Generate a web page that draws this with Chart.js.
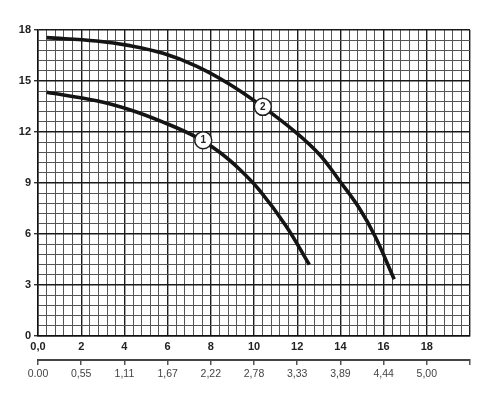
<!DOCTYPE html>
<html>
<head>
<meta charset="utf-8">
<script src="https://cdn.jsdelivr.net/npm/chart.js@4"></script>
<style>
html,body{margin:0;padding:0;background:#fff;}
#wrap{width:500px;height:400px;}
</style>
</head>
<body>
<div id="wrap"><canvas id="c" width="500" height="400"></canvas></div>
<script>
// Flow Q (m3/h) and head H (m)
const curve1Q = [0.40, 2.71, 4.25, 5.79, 7.33, 8.41, 9.33, 10.25, 11.49, 12.56];
const curve1H = [14.34, 13.84, 13.31, 12.58, 11.70, 10.81, 9.81, 8.58, 6.46, 4.20];
const curve2Q = [0.40, 2.71, 4.25, 5.79, 7.33, 8.87, 10.41, 11.95, 13.03, 13.95, 14.87, 15.61, 16.49];
const curve2H = [17.55, 17.35, 17.08, 16.63, 15.88, 14.81, 13.48, 11.97, 10.68, 9.15, 7.53, 5.85, 3.34];
const markerQ = [7.65, 10.41];
const markerH = [11.52, 13.48];
const markerText = ['1', '2'];
const xTickLabels = ['0,0', '2', '4', '6', '8', '10', '12', '14', '16', '18', ''];
const lpsTickLabels = ['0.00', '0,55', '1,11', '1,67', '2,22', '2,78', '3,33', '3,89', '4,44', '5,00', ''];
const yTickLabels = ['0', '3', '6', '9', '12', '15', '18'];

const toPts = (xs, ys) => xs.map((x, i) => ({x: x, y: ys[i]}));

const isMultiple = (v, m) => Math.abs(v / m - Math.round(v / m)) < 1e-6;

const markerTextPlugin = {
  id: 'markerText',
  afterDatasetsDraw(chart) {
    const meta = chart.getDatasetMeta(2);
    const ctx = chart.ctx;
    ctx.save();
    ctx.fillStyle = '#222';
    ctx.font = 'bold 10px "Liberation Sans", Arial, sans-serif';
    ctx.textAlign = 'center';
    ctx.textBaseline = 'middle';
    meta.data.forEach((pt, i) => {
      ctx.fillText(markerText[i], pt.x, pt.y + 0.5);
    });
    ctx.restore();
  }
};

const curveStyle = {
  showLine: true,
  borderColor: '#141414',
  borderWidth: 3.6,
  pointRadius: 0,
  tension: 0.4,
  borderCapStyle: 'butt',
  order: 2
};

new Chart(document.getElementById('c'), {
  type: 'scatter',
  data: {
    datasets: [
      Object.assign({data: toPts(curve1Q, curve1H)}, curveStyle),
      Object.assign({data: toPts(curve2Q, curve2H)}, curveStyle),
      {
        data: toPts(markerQ, markerH),
        showLine: false,
        pointRadius: 8.5,
        pointBackgroundColor: '#ffffff',
        pointBorderColor: '#222',
        pointBorderWidth: 1.5,
        order: 0
      }
    ]
  },
  options: {
    responsive: false,
    animation: false,
    events: [],
    layout: {padding: {top: 30, right: 30, left: 0, bottom: 0}},
    plugins: {legend: {display: false}, tooltip: {enabled: false}},
    scales: {
      x: {
        type: 'linear',
        position: 'bottom',
        min: 0, max: 20,
        afterFit(s) { s.height = 24; },
        ticks: {
          stepSize: 0.4,
          autoSkip: false,
          maxRotation: 0,
          padding: 4,
          color: '#222',
          font: {family: '"Liberation Sans", Arial, sans-serif', size: 11, weight: 'bold'},
          callback(v) {
            if (!isMultiple(v, 2)) return '';
            return xTickLabels[Math.round(v / 2)];
          }
        },
        grid: {
          drawTicks: false,
          color: c => (c.tick && isMultiple(c.tick.value, 2)) ? '#1a1a1a' : '#555555',
          lineWidth: c => (c.tick && isMultiple(c.tick.value, 2)) ? 1.4 : 1
        },
        border: {display: true, color: '#111', width: 1.5}
      },
      x2: {
        type: 'linear',
        position: 'bottom',
        min: 0, max: 20,
        afterFit(s) { s.height = 40; },
        ticks: {
          stepSize: 2,
          autoSkip: false,
          maxRotation: 0,
          padding: 3,
          color: '#444',
          font: {family: '"Liberation Sans", Arial, sans-serif', size: 10.5},
          callback(v) { return lpsTickLabels[Math.round(v / 2)]; }
        },
        grid: {drawOnChartArea: false, drawTicks: true, tickLength: 5, color: '#555', lineWidth: 1.5},
        border: {display: true, color: '#444', width: 2}
      },
      y: {
        type: 'linear',
        min: 0, max: 18,
        afterFit(s) { s.width = 38; },
        ticks: {
          stepSize: 0.6,
          autoSkip: false,
          padding: 3,
          color: '#222',
          font: {family: '"Liberation Sans", Arial, sans-serif', size: 11, weight: 'bold'},
          callback(v) {
            if (!isMultiple(v, 3)) return '';
            return yTickLabels[Math.round(v / 3)];
          }
        },
        grid: {
          drawTicks: true,
          tickLength: 4,
          tickColor: c => (c.tick && isMultiple(c.tick.value, 3)) ? '#333' : 'rgba(0,0,0,0)',
          color: c => (c.tick && isMultiple(c.tick.value, 3)) ? '#1a1a1a' : '#555555',
          lineWidth: c => (c.tick && isMultiple(c.tick.value, 3)) ? 1.4 : 1
        },
        border: {display: true, color: '#111', width: 1.5}
      }
    }
  },
  plugins: [markerTextPlugin]
});
</script>
</body>
</html>
